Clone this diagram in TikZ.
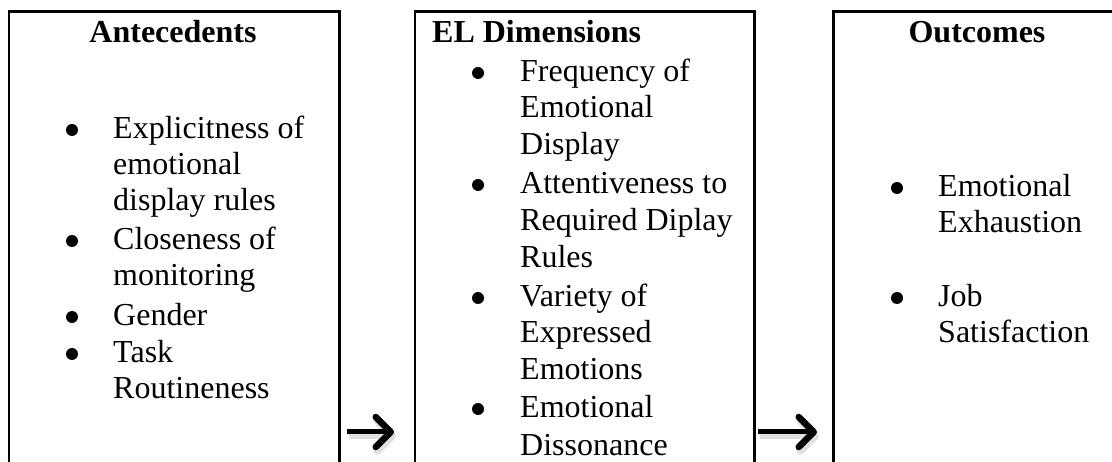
\documentclass[tikz,border=0pt]{standalone}
\usepackage{fontspec}
\setmainfont{Liberation Serif}
\usetikzlibrary{arrows.meta}
\tikzset{
  boxstyle/.style={draw, line width=2.6pt, anchor=north west, inner sep=0pt, minimum height=520pt},
  ln/.style={anchor=base west, inner sep=0pt, font=\fontsize{32}{36}\selectfont},
  ttl/.style={anchor=base, inner sep=0pt, font=\fontsize{32}{36}\selectfont\bfseries},
  ttlw/.style={anchor=base west, inner sep=0pt, font=\fontsize{32}{36}\selectfont\bfseries},
  bul/.style={circle, fill=black, inner sep=0pt, minimum size=12pt, yshift=9pt},
  arr/.style={line width=5pt, -{Straight Barb[length=15pt,width=30pt,line width=6.5pt,round]}},
  arrshadow/.style={line width=6pt, draw=black!30, opacity=0.4, -{Straight Barb[length=15pt,width=30pt,line width=7.5pt,round]}},
}
\begin{document}
\begin{tikzpicture}[x=1pt,y=-1pt]
\clip (0,0) rectangle (1112,462);
\fill[white] (0,0) rectangle (1112,462);
% boxes
\node[boxstyle, minimum width=330.5pt] (b1) at (7.5,10) {};
\node[boxstyle, minimum width=339.5pt] (b2) at (413.5,10) {};
\node[boxstyle, minimum width=330pt] (b3) at (832,10) {};
% column 1
\node[ttl] (t1) at (173,43) {Antecedents};
\node[bul] (p1) at (72,139) {};
\node[ln] (l1a) at (113,139) {Explicitness of};
\node[ln] (l1b) at (113,175) {emotional};
\node[ln] (l1c) at (113,211) {display rules};
\node[bul] (p2) at (72,250) {};
\node[ln] (l2a) at (113,250) {Closeness of};
\node[ln] (l2b) at (113,286) {monitoring};
\node[bul] (p3) at (72,326) {};
\node[ln] (l3a) at (113,326) {Gender};
\node[bul] (p4) at (72,363) {};
\node[ln] (l4a) at (113,363) {Task};
\node[ln] (l4b) at (113,399) {Routineness};
% column 2
\node[ttlw] (t2) at (432,43) {EL Dimensions};
\node[bul] (q1) at (478,82) {};
\node[ln] (m1a) at (520,82) {Frequency of};
\node[ln] (m1b) at (520,118) {Emotional};
\node[ln] (m1c) at (520,155) {Display};
\node[bul] (q2) at (478,194) {};
\node[ln] (m2a) at (520,194) {Attentiveness to};
\node[ln] (m2b) at (520,231) {Required Diplay};
\node[ln] (m2c) at (520,268) {Rules};
\node[bul] (q3) at (478,307) {};
\node[ln] (m3a) at (520,307) {Variety of};
\node[ln] (m3b) at (520,343) {Expressed};
\node[ln] (m3c) at (520,380) {Emotions};
\node[bul] (q4) at (478,418) {};
\node[ln] (m4a) at (520,418) {Emotional};
\node[ln] (m4b) at (520,455) {Dissonance};
% column 3
\node[ttl] (t3) at (977,43) {Outcomes};
\node[bul] (r1) at (897,197) {};
\node[ln] (o1a) at (938,197) {Emotional};
\node[ln] (o1b) at (938,233) {Exhaustion};
\node[bul] (r2) at (897,307) {};
\node[ln] (o2a) at (938,307) {Job};
\node[ln] (o2b) at (938,343) {Satisfaction};
% arrows
\coordinate (a1s) at (347,432);
\coordinate (a1e) at (394,432);
\coordinate (a2s) at (758,432);
\coordinate (a2e) at (817,432);
\draw[arrshadow] ([shift={(2,4)}]a1s) -- ([shift={(2,4)}]a1e);
\draw[arrshadow] ([shift={(2,4)}]a2s) -- ([shift={(2,4)}]a2e);
\draw[arr] (a1s) -- (a1e);
\draw[arr] (a2s) -- (a2e);
\end{tikzpicture}
\end{document}
